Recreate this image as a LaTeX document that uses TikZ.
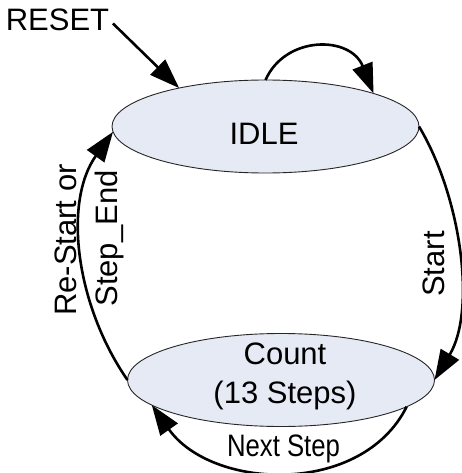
\documentclass[tikz,border=0pt]{standalone}
\usepackage{fontspec}
\usepackage{graphicx}
\setmainfont{Liberation Sans}
\usetikzlibrary{shapes.geometric,arrows.meta}
\definecolor{statefill}{HTML}{E6EAF4}
\begin{document}
\begin{tikzpicture}[x=1pt,y=-1pt,
  statebox/.style={ellipse,draw=black!85,line width=0.9pt,fill=statefill,minimum width=307pt,minimum height=93pt,inner sep=0pt,outer sep=0pt},
  lbl/.style={font=\fontsize{31}{39}\selectfont,inner sep=0pt},
  conn/.style={line width=2.6pt,-{Triangle[length=30pt,width=21pt]}}]
\useasboundingbox (0,0) rectangle (461,473);
\node[statebox] (idle) at (265.5,126.5) {};
\node[statebox] (count) at (281,380) {};
\node[lbl] (idletext) at (264,134) {IDLE};
\node[lbl,align=center] (counttext) at (285,376.5) {Count\\(13 Steps)};
\node[lbl] (reset) at (57.5,20) {RESET};
\node[lbl,rotate=90] (lrestart) at (66.3,240) {Re-Start or};
\node[lbl,rotate=90] (lstepend) at (109.5,238.5) {Step\_End};
\node[lbl,rotate=90] (lstart) at (433.5,264) {Start};
\node[lbl] (lnext) at (283.5,449) {\scalebox{0.83}[1]{Next Step}};
\draw[conn,shorten <=5pt] (reset.east) -- (idle.156);
\draw[conn] (idle.90) .. controls +(20,-45) and +(-23,-58) .. (idle.17);
\draw[conn] (idle.0) .. controls +(42,70) and +(42,-70) .. (count.0);
\draw[conn] (count.180) .. controls +(-52,-75) and +(-50,70) .. (idle.182);
\draw[conn] (count.-12) .. controls +(-45,90) and +(60,85) .. (count.-169);
\end{tikzpicture}
\end{document}
